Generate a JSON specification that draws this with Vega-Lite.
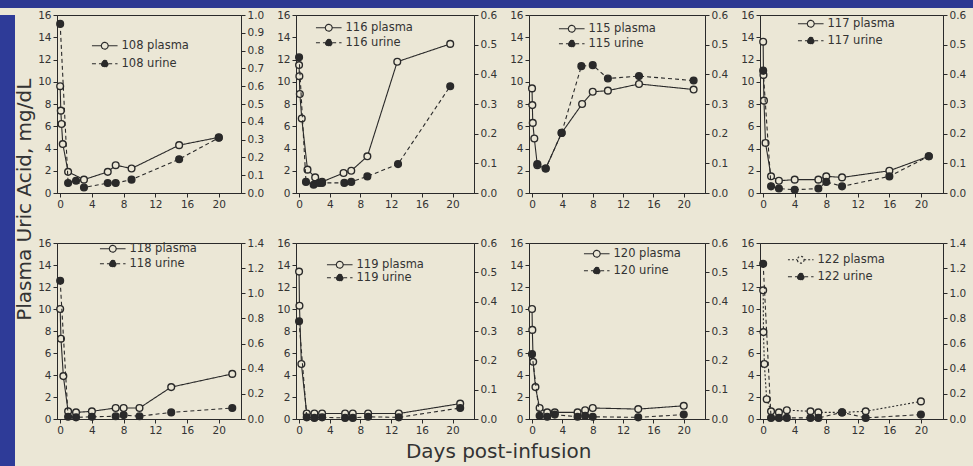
{
"$schema": "https://vega.github.io/schema/vega-lite/v6.json",
"background": "#ebe7d6",
"padding": 0,
"spacing": 1,
"resolve": {"scale": {"fill": "independent", "strokeDash": "independent"}, "legend": {"fill": "independent", "strokeDash": "independent"}},
"datasets": {"uric": [
{"patient":"108","type":"plasma","day":0,"value":9.6},{"patient":"108","type":"plasma","day":0.08,"value":7.4},{"patient":"108","type":"plasma","day":0.17,"value":6.2},{"patient":"108","type":"plasma","day":0.33,"value":4.4},{"patient":"108","type":"plasma","day":1,"value":1.9},{"patient":"108","type":"plasma","day":3,"value":1.2},{"patient":"108","type":"plasma","day":6,"value":1.9},{"patient":"108","type":"plasma","day":7,"value":2.5},{"patient":"108","type":"plasma","day":9,"value":2.2},{"patient":"108","type":"plasma","day":15,"value":4.3},{"patient":"108","type":"plasma","day":20,"value":5.0},
{"patient":"108","type":"urine","day":0,"value":0.95},{"patient":"108","type":"urine","day":1,"value":0.056},{"patient":"108","type":"urine","day":2,"value":0.069},{"patient":"108","type":"urine","day":3,"value":0.031},{"patient":"108","type":"urine","day":6,"value":0.056},{"patient":"108","type":"urine","day":7,"value":0.056},{"patient":"108","type":"urine","day":9,"value":0.075},{"patient":"108","type":"urine","day":15,"value":0.19},{"patient":"108","type":"urine","day":20,"value":0.31},
{"patient":"116","type":"plasma","day":0,"value":11.5},{"patient":"116","type":"plasma","day":0.04,"value":10.5},{"patient":"116","type":"plasma","day":0.1,"value":8.9},{"patient":"116","type":"plasma","day":0.35,"value":6.7},{"patient":"116","type":"plasma","day":1.1,"value":2.1},{"patient":"116","type":"plasma","day":2.1,"value":1.4},{"patient":"116","type":"plasma","day":3,"value":1.0},{"patient":"116","type":"plasma","day":5.8,"value":1.8},{"patient":"116","type":"plasma","day":6.8,"value":2.0},{"patient":"116","type":"plasma","day":8.9,"value":3.3},{"patient":"116","type":"plasma","day":12.8,"value":11.8},{"patient":"116","type":"plasma","day":19.7,"value":13.4},
{"patient":"116","type":"urine","day":0,"value":0.4575},{"patient":"116","type":"urine","day":0.9,"value":0.0375},{"patient":"116","type":"urine","day":1.9,"value":0.028},{"patient":"116","type":"urine","day":2.6,"value":0.034},{"patient":"116","type":"urine","day":3,"value":0.034},{"patient":"116","type":"urine","day":5.9,"value":0.034},{"patient":"116","type":"urine","day":6.8,"value":0.0375},{"patient":"116","type":"urine","day":8.9,"value":0.056},{"patient":"116","type":"urine","day":12.9,"value":0.0975},{"patient":"116","type":"urine","day":19.7,"value":0.36},
{"patient":"115","type":"plasma","day":0,"value":9.4},{"patient":"115","type":"plasma","day":0.04,"value":7.9},{"patient":"115","type":"plasma","day":0.1,"value":6.3},{"patient":"115","type":"plasma","day":0.3,"value":4.9},{"patient":"115","type":"plasma","day":0.7,"value":2.5},{"patient":"115","type":"plasma","day":1.8,"value":2.2},{"patient":"115","type":"plasma","day":3.9,"value":5.4},{"patient":"115","type":"plasma","day":6.6,"value":8.0},{"patient":"115","type":"plasma","day":8,"value":9.1},{"patient":"115","type":"plasma","day":10,"value":9.2},{"patient":"115","type":"plasma","day":14.1,"value":9.8},{"patient":"115","type":"plasma","day":21.3,"value":9.3},
{"patient":"115","type":"urine","day":0.7,"value":0.0975},{"patient":"115","type":"urine","day":1.8,"value":0.0825},{"patient":"115","type":"urine","day":3.9,"value":0.2025},{"patient":"115","type":"urine","day":6.5,"value":0.4275},{"patient":"115","type":"urine","day":8,"value":0.431},{"patient":"115","type":"urine","day":10,"value":0.386},{"patient":"115","type":"urine","day":14.1,"value":0.394},{"patient":"115","type":"urine","day":21.3,"value":0.379},
{"patient":"117","type":"plasma","day":0,"value":13.6},{"patient":"117","type":"plasma","day":0.04,"value":10.6},{"patient":"117","type":"plasma","day":0.1,"value":8.3},{"patient":"117","type":"plasma","day":0.3,"value":4.5},{"patient":"117","type":"plasma","day":1,"value":1.5},{"patient":"117","type":"plasma","day":2,"value":1.1},{"patient":"117","type":"plasma","day":4,"value":1.2},{"patient":"117","type":"plasma","day":7,"value":1.2},{"patient":"117","type":"plasma","day":8,"value":1.5},{"patient":"117","type":"plasma","day":10,"value":1.4},{"patient":"117","type":"plasma","day":16,"value":2.0},{"patient":"117","type":"plasma","day":21,"value":3.3},
{"patient":"117","type":"urine","day":0,"value":0.4125},{"patient":"117","type":"urine","day":1,"value":0.0225},{"patient":"117","type":"urine","day":2,"value":0.015},{"patient":"117","type":"urine","day":4,"value":0.011},{"patient":"117","type":"urine","day":7,"value":0.015},{"patient":"117","type":"urine","day":8,"value":0.0375},{"patient":"117","type":"urine","day":10,"value":0.0225},{"patient":"117","type":"urine","day":16,"value":0.056},{"patient":"117","type":"urine","day":21,"value":0.124},
{"patient":"118","type":"plasma","day":0,"value":10.0},{"patient":"118","type":"plasma","day":0.1,"value":7.3},{"patient":"118","type":"plasma","day":0.4,"value":3.9},{"patient":"118","type":"plasma","day":1,"value":0.7},{"patient":"118","type":"plasma","day":2,"value":0.6},{"patient":"118","type":"plasma","day":4,"value":0.7},{"patient":"118","type":"plasma","day":7,"value":1.0},{"patient":"118","type":"plasma","day":8,"value":1.0},{"patient":"118","type":"plasma","day":10,"value":1.0},{"patient":"118","type":"plasma","day":14,"value":2.9},{"patient":"118","type":"plasma","day":21.7,"value":4.1},
{"patient":"118","type":"urine","day":0,"value":1.10},{"patient":"118","type":"urine","day":1,"value":0.0175},{"patient":"118","type":"urine","day":2,"value":0.013},{"patient":"118","type":"urine","day":4,"value":0.0175},{"patient":"118","type":"urine","day":7,"value":0.022},{"patient":"118","type":"urine","day":8,"value":0.031},{"patient":"118","type":"urine","day":10,"value":0.022},{"patient":"118","type":"urine","day":14,"value":0.0525},{"patient":"118","type":"urine","day":21.7,"value":0.0875},
{"patient":"119","type":"plasma","day":0,"value":13.4},{"patient":"119","type":"plasma","day":0.05,"value":10.3},{"patient":"119","type":"plasma","day":0.3,"value":5.0},{"patient":"119","type":"plasma","day":1,"value":0.5},{"patient":"119","type":"plasma","day":2,"value":0.5},{"patient":"119","type":"plasma","day":3,"value":0.5},{"patient":"119","type":"plasma","day":6,"value":0.5},{"patient":"119","type":"plasma","day":7,"value":0.5},{"patient":"119","type":"plasma","day":9,"value":0.5},{"patient":"119","type":"plasma","day":13,"value":0.5},{"patient":"119","type":"plasma","day":21,"value":1.4},
{"patient":"119","type":"urine","day":0,"value":0.333},{"patient":"119","type":"urine","day":1,"value":0.0056},{"patient":"119","type":"urine","day":2,"value":0.0038},{"patient":"119","type":"urine","day":3,"value":0.0056},{"patient":"119","type":"urine","day":6,"value":0.0038},{"patient":"119","type":"urine","day":7,"value":0.0038},{"patient":"119","type":"urine","day":9,"value":0.0075},{"patient":"119","type":"urine","day":13,"value":0.0056},{"patient":"119","type":"urine","day":21,"value":0.0375},
{"patient":"120","type":"plasma","day":0,"value":10.0},{"patient":"120","type":"plasma","day":0.04,"value":8.1},{"patient":"120","type":"plasma","day":0.15,"value":5.2},{"patient":"120","type":"plasma","day":0.45,"value":2.9},{"patient":"120","type":"plasma","day":1,"value":1.0},{"patient":"120","type":"plasma","day":2,"value":0.6},{"patient":"120","type":"plasma","day":3,"value":0.6},{"patient":"120","type":"plasma","day":6,"value":0.6},{"patient":"120","type":"plasma","day":7,"value":0.8},{"patient":"120","type":"plasma","day":8,"value":1.0},{"patient":"120","type":"plasma","day":14,"value":0.9},{"patient":"120","type":"plasma","day":20,"value":1.2},
{"patient":"120","type":"urine","day":0,"value":0.221},{"patient":"120","type":"urine","day":1,"value":0.011},{"patient":"120","type":"urine","day":2,"value":0.0075},{"patient":"120","type":"urine","day":3,"value":0.015},{"patient":"120","type":"urine","day":6,"value":0.0075},{"patient":"120","type":"urine","day":7,"value":0.011},{"patient":"120","type":"urine","day":8,"value":0.0075},{"patient":"120","type":"urine","day":14,"value":0.0056},{"patient":"120","type":"urine","day":20,"value":0.015},
{"patient":"122","type":"plasma","day":0,"value":11.7},{"patient":"122","type":"plasma","day":0.04,"value":7.9},{"patient":"122","type":"plasma","day":0.15,"value":5.0},{"patient":"122","type":"plasma","day":0.45,"value":1.8},{"patient":"122","type":"plasma","day":1,"value":0.7},{"patient":"122","type":"plasma","day":2,"value":0.6},{"patient":"122","type":"plasma","day":3,"value":0.8},{"patient":"122","type":"plasma","day":6,"value":0.7},{"patient":"122","type":"plasma","day":7,"value":0.6},{"patient":"122","type":"plasma","day":10,"value":0.6},{"patient":"122","type":"plasma","day":13,"value":0.7},{"patient":"122","type":"plasma","day":20,"value":1.6},
{"patient":"122","type":"urine","day":0,"value":1.234},{"patient":"122","type":"urine","day":1,"value":0.0088},{"patient":"122","type":"urine","day":2,"value":0.0088},{"patient":"122","type":"urine","day":3,"value":0.0088},{"patient":"122","type":"urine","day":6,"value":0.0088},{"patient":"122","type":"urine","day":7,"value":0.0088},{"patient":"122","type":"urine","day":10,"value":0.0525},{"patient":"122","type":"urine","day":13,"value":0.0088},{"patient":"122","type":"urine","day":20,"value":0.035}
]},
"vconcat": [
{"width": 973, "height": 8, "view": {"fill": "#2c3892", "stroke": null}, "data": {"values": []}, "mark": "point", "encoding": {}},
{"spacing": 0,
 "resolve": {"scale": {"fill": "independent", "strokeDash": "independent"}, "legend": {"fill": "independent", "strokeDash": "independent"}},
 "hconcat": [
 {"width": 15, "height": 457, "view": {"fill": "#2e3b98", "stroke": null}, "data": {"values": []}, "mark": "point", "encoding": {}},
 {"title": {"text": "Days post-infusion", "orient": "bottom", "offset": 6, "anchor": "middle", "dx": 8},
  "resolve": {"scale": {"fill": "independent", "strokeDash": "independent"}, "legend": {"fill": "independent", "strokeDash": "independent"}},
  "hconcat": [
  {"title": {"text": "Plasma Uric Acid, mg/dL", "orient": "left", "offset": 2, "anchor": "middle", "dx": 23},
   "spacing": 27,
   "resolve": {"scale": {"fill": "independent", "strokeDash": "independent"}, "legend": {"fill": "independent", "strokeDash": "independent"}},
   "vconcat": [
   {"spacing": 11,
    "resolve": {"scale": {"fill": "independent", "strokeDash": "independent"}, "legend": {"fill": "independent", "strokeDash": "independent"}},
    "hconcat": [
    {"width": 184, "height": 178, "data": {"name": "uric"}, "transform": [{"filter": "datum.patient == '108'"}],
     "encoding": {"x": {"field": "day", "type": "quantitative", "scale": {"domain": [-0.4, 22.8], "nice": false, "zero": false}, "axis": {"values": [0,4,8,12,16,20], "title": null, "labelFlush": false}}},
     "layer": [
      {"transform": [{"filter": "datum.type == 'plasma'"}],
       "encoding": {"y": {"field": "value", "type": "quantitative", "scale": {"domain": [0,16], "nice": false}, "axis": {"values": [0,2,4,6,8,10,12,14,16], "title": null}}},
       "layer": [
        {"mark": {"type": "line"}, "encoding": {"strokeDash": {"datum": "108 plasma", "scale": {"domain": ["108 plasma","108 urine"], "range": [[1,0],[4,3]]}, "legend": {"orient": "none", "legendX": 42, "legendY": 25, "rowPadding": 5, "title": null}}}},
        {"mark": {"type": "point", "filled": true, "size": 45, "stroke": "#2a2a2a", "strokeWidth": 1.4, "opacity": 1}, "encoding": {"fill": {"datum": "108 plasma", "scale": {"domain": ["108 plasma","108 urine"], "range": ["#ebe7d6","#2a2a2a"]}, "legend": {"orient": "none", "legendX": 42, "legendY": 25, "rowPadding": 5, "title": null}}}}
       ]},
      {"transform": [{"filter": "datum.type == 'urine'"}],
       "encoding": {"y": {"field": "value", "type": "quantitative", "scale": {"domain": [0,1.0], "nice": false}, "axis": {"orient": "right", "values": [0,0.1,0.2,0.3,0.4,0.5,0.6,0.7,0.8,0.9,1.0], "format": ".1f", "title": null}}},
       "layer": [
        {"mark": {"type": "line"}, "encoding": {"strokeDash": {"datum": "108 urine", "scale": {"domain": ["108 plasma","108 urine"], "range": [[1,0],[4,3]]}, "legend": {"orient": "none", "legendX": 42, "legendY": 25, "rowPadding": 5, "title": null}}}},
        {"mark": {"type": "point", "filled": true, "size": 45, "stroke": "#2a2a2a", "strokeWidth": 1.4, "opacity": 1}, "encoding": {"fill": {"datum": "108 urine", "scale": {"domain": ["108 plasma","108 urine"], "range": ["#ebe7d6","#2a2a2a"]}, "legend": {"orient": "none", "legendX": 42, "legendY": 25, "rowPadding": 5, "title": null}}}}
       ]}
     ],
     "resolve": {"scale": {"y": "independent"}}},
    {"width": 178, "height": 178, "data": {"name": "uric"}, "transform": [{"filter": "datum.patient == '116'"}],
     "encoding": {"x": {"field": "day", "type": "quantitative", "scale": {"domain": [-0.4, 22.8], "nice": false, "zero": false}, "axis": {"values": [0,4,8,12,16,20], "title": null, "labelFlush": false}}},
     "layer": [
      {"transform": [{"filter": "datum.type == 'plasma'"}],
       "encoding": {"y": {"field": "value", "type": "quantitative", "scale": {"domain": [0,16], "nice": false}, "axis": {"values": [0,2,4,6,8,10,12,14,16], "title": null}}},
       "layer": [
        {"mark": {"type": "line"}, "encoding": {"strokeDash": {"datum": "116 plasma", "scale": {"domain": ["116 plasma","116 urine"], "range": [[1,0],[4,3]]}, "legend": {"orient": "none", "legendX": 27, "legendY": 7, "rowPadding": 2, "title": null}}}},
        {"mark": {"type": "point", "filled": true, "size": 45, "stroke": "#2a2a2a", "strokeWidth": 1.4, "opacity": 1}, "encoding": {"fill": {"datum": "116 plasma", "scale": {"domain": ["116 plasma","116 urine"], "range": ["#ebe7d6","#2a2a2a"]}, "legend": {"orient": "none", "legendX": 27, "legendY": 7, "rowPadding": 2, "title": null}}}}
       ]},
      {"transform": [{"filter": "datum.type == 'urine'"}],
       "encoding": {"y": {"field": "value", "type": "quantitative", "scale": {"domain": [0,0.6], "nice": false}, "axis": {"orient": "right", "values": [0,0.1,0.2,0.3,0.4,0.5,0.6], "format": ".1f", "title": null}}},
       "layer": [
        {"mark": {"type": "line"}, "encoding": {"strokeDash": {"datum": "116 urine", "scale": {"domain": ["116 plasma","116 urine"], "range": [[1,0],[4,3]]}, "legend": {"orient": "none", "legendX": 27, "legendY": 7, "rowPadding": 2, "title": null}}}},
        {"mark": {"type": "point", "filled": true, "size": 45, "stroke": "#2a2a2a", "strokeWidth": 1.4, "opacity": 1}, "encoding": {"fill": {"datum": "116 urine", "scale": {"domain": ["116 plasma","116 urine"], "range": ["#ebe7d6","#2a2a2a"]}, "legend": {"orient": "none", "legendX": 27, "legendY": 7, "rowPadding": 2, "title": null}}}}
       ]}
     ],
     "resolve": {"scale": {"y": "independent"}}},
    {"width": 176, "height": 178, "data": {"name": "uric"}, "transform": [{"filter": "datum.patient == '115'"}],
     "encoding": {"x": {"field": "day", "type": "quantitative", "scale": {"domain": [-0.4, 22.8], "nice": false, "zero": false}, "axis": {"values": [0,4,8,12,16,20], "title": null, "labelFlush": false}}},
     "layer": [
      {"transform": [{"filter": "datum.type == 'plasma'"}],
       "encoding": {"y": {"field": "value", "type": "quantitative", "scale": {"domain": [0,16], "nice": false}, "axis": {"values": [0,2,4,6,8,10,12,14,16], "title": null}}},
       "layer": [
        {"mark": {"type": "line"}, "encoding": {"strokeDash": {"datum": "115 plasma", "scale": {"domain": ["115 plasma","115 urine"], "range": [[1,0],[4,3]]}, "legend": {"orient": "none", "legendX": 37, "legendY": 8, "rowPadding": 2, "title": null}}}},
        {"mark": {"type": "point", "filled": true, "size": 45, "stroke": "#2a2a2a", "strokeWidth": 1.4, "opacity": 1}, "encoding": {"fill": {"datum": "115 plasma", "scale": {"domain": ["115 plasma","115 urine"], "range": ["#ebe7d6","#2a2a2a"]}, "legend": {"orient": "none", "legendX": 37, "legendY": 8, "rowPadding": 2, "title": null}}}}
       ]},
      {"transform": [{"filter": "datum.type == 'urine'"}],
       "encoding": {"y": {"field": "value", "type": "quantitative", "scale": {"domain": [0,0.6], "nice": false}, "axis": {"orient": "right", "values": [0,0.1,0.2,0.3,0.4,0.5,0.6], "format": ".1f", "title": null}}},
       "layer": [
        {"mark": {"type": "line"}, "encoding": {"strokeDash": {"datum": "115 urine", "scale": {"domain": ["115 plasma","115 urine"], "range": [[1,0],[4,3]]}, "legend": {"orient": "none", "legendX": 37, "legendY": 8, "rowPadding": 2, "title": null}}}},
        {"mark": {"type": "point", "filled": true, "size": 45, "stroke": "#2a2a2a", "strokeWidth": 1.4, "opacity": 1}, "encoding": {"fill": {"datum": "115 urine", "scale": {"domain": ["115 plasma","115 urine"], "range": ["#ebe7d6","#2a2a2a"]}, "legend": {"orient": "none", "legendX": 37, "legendY": 8, "rowPadding": 2, "title": null}}}}
       ]}
     ],
     "resolve": {"scale": {"y": "independent"}}},
    {"width": 183, "height": 178, "data": {"name": "uric"}, "transform": [{"filter": "datum.patient == '117'"}],
     "encoding": {"x": {"field": "day", "type": "quantitative", "scale": {"domain": [-0.4, 22.8], "nice": false, "zero": false}, "axis": {"values": [0,4,8,12,16,20], "title": null, "labelFlush": false}}},
     "layer": [
      {"transform": [{"filter": "datum.type == 'plasma'"}],
       "encoding": {"y": {"field": "value", "type": "quantitative", "scale": {"domain": [0,16], "nice": false}, "axis": {"values": [0,2,4,6,8,10,12,14,16], "title": null}}},
       "layer": [
        {"mark": {"type": "line"}, "encoding": {"strokeDash": {"datum": "117 plasma", "scale": {"domain": ["117 plasma","117 urine"], "range": [[1,0],[4,3]]}, "legend": {"orient": "none", "legendX": 45, "legendY": 3, "rowPadding": 4, "title": null}}}},
        {"mark": {"type": "point", "filled": true, "size": 45, "stroke": "#2a2a2a", "strokeWidth": 1.4, "opacity": 1}, "encoding": {"fill": {"datum": "117 plasma", "scale": {"domain": ["117 plasma","117 urine"], "range": ["#ebe7d6","#2a2a2a"]}, "legend": {"orient": "none", "legendX": 45, "legendY": 3, "rowPadding": 4, "title": null}}}}
       ]},
      {"transform": [{"filter": "datum.type == 'urine'"}],
       "encoding": {"y": {"field": "value", "type": "quantitative", "scale": {"domain": [0,0.6], "nice": false}, "axis": {"orient": "right", "values": [0,0.1,0.2,0.3,0.4,0.5,0.6], "format": ".1f", "title": null}}},
       "layer": [
        {"mark": {"type": "line"}, "encoding": {"strokeDash": {"datum": "117 urine", "scale": {"domain": ["117 plasma","117 urine"], "range": [[1,0],[4,3]]}, "legend": {"orient": "none", "legendX": 45, "legendY": 3, "rowPadding": 4, "title": null}}}},
        {"mark": {"type": "point", "filled": true, "size": 45, "stroke": "#2a2a2a", "strokeWidth": 1.4, "opacity": 1}, "encoding": {"fill": {"datum": "117 urine", "scale": {"domain": ["117 plasma","117 urine"], "range": ["#ebe7d6","#2a2a2a"]}, "legend": {"orient": "none", "legendX": 45, "legendY": 3, "rowPadding": 4, "title": null}}}}
       ]}
     ],
     "resolve": {"scale": {"y": "independent"}}}
   ]},
   {"spacing": 11,
    "resolve": {"scale": {"fill": "independent", "strokeDash": "independent"}, "legend": {"fill": "independent", "strokeDash": "independent"}},
    "hconcat": [
    {"width": 184, "height": 176, "data": {"name": "uric"}, "transform": [{"filter": "datum.patient == '118'"}],
     "encoding": {"x": {"field": "day", "type": "quantitative", "scale": {"domain": [-0.4, 22.8], "nice": false, "zero": false}, "axis": {"values": [0,4,8,12,16,20], "title": null, "labelFlush": false}}},
     "layer": [
      {"transform": [{"filter": "datum.type == 'plasma'"}],
       "encoding": {"y": {"field": "value", "type": "quantitative", "scale": {"domain": [0,16], "nice": false}, "axis": {"values": [0,2,4,6,8,10,12,14,16], "title": null}}},
       "layer": [
        {"mark": {"type": "line"}, "encoding": {"strokeDash": {"datum": "118 plasma", "scale": {"domain": ["118 plasma","118 urine"], "range": [[1,0],[4,3]]}, "legend": {"orient": "none", "legendX": 50, "legendY": 0, "rowPadding": 2, "title": null}}}},
        {"mark": {"type": "point", "filled": true, "size": 45, "stroke": "#2a2a2a", "strokeWidth": 1.4, "opacity": 1}, "encoding": {"fill": {"datum": "118 plasma", "scale": {"domain": ["118 plasma","118 urine"], "range": ["#ebe7d6","#2a2a2a"]}, "legend": {"orient": "none", "legendX": 50, "legendY": 0, "rowPadding": 2, "title": null}}}}
       ]},
      {"transform": [{"filter": "datum.type == 'urine'"}],
       "encoding": {"y": {"field": "value", "type": "quantitative", "scale": {"domain": [0,1.4], "nice": false}, "axis": {"orient": "right", "values": [0,0.2,0.4,0.6,0.8,1.0,1.2,1.4], "format": ".1f", "title": null}}},
       "layer": [
        {"mark": {"type": "line"}, "encoding": {"strokeDash": {"datum": "118 urine", "scale": {"domain": ["118 plasma","118 urine"], "range": [[1,0],[4,3]]}, "legend": {"orient": "none", "legendX": 50, "legendY": 0, "rowPadding": 2, "title": null}}}},
        {"mark": {"type": "point", "filled": true, "size": 45, "stroke": "#2a2a2a", "strokeWidth": 1.4, "opacity": 1}, "encoding": {"fill": {"datum": "118 urine", "scale": {"domain": ["118 plasma","118 urine"], "range": ["#ebe7d6","#2a2a2a"]}, "legend": {"orient": "none", "legendX": 50, "legendY": 0, "rowPadding": 2, "title": null}}}}
       ]}
     ],
     "resolve": {"scale": {"y": "independent"}}},
    {"width": 178, "height": 176, "data": {"name": "uric"}, "transform": [{"filter": "datum.patient == '119'"}],
     "encoding": {"x": {"field": "day", "type": "quantitative", "scale": {"domain": [-0.4, 22.8], "nice": false, "zero": false}, "axis": {"values": [0,4,8,12,16,20], "title": null, "labelFlush": false}}},
     "layer": [
      {"transform": [{"filter": "datum.type == 'plasma'"}],
       "encoding": {"y": {"field": "value", "type": "quantitative", "scale": {"domain": [0,16], "nice": false}, "axis": {"values": [0,2,4,6,8,10,12,14,16], "title": null}}},
       "layer": [
        {"mark": {"type": "line"}, "encoding": {"strokeDash": {"datum": "119 plasma", "scale": {"domain": ["119 plasma","119 urine"], "range": [[1,0],[4,3]]}, "legend": {"orient": "none", "legendX": 38, "legendY": 16, "rowPadding": 0, "title": null}}}},
        {"mark": {"type": "point", "filled": true, "size": 45, "stroke": "#2a2a2a", "strokeWidth": 1.4, "opacity": 1}, "encoding": {"fill": {"datum": "119 plasma", "scale": {"domain": ["119 plasma","119 urine"], "range": ["#ebe7d6","#2a2a2a"]}, "legend": {"orient": "none", "legendX": 38, "legendY": 16, "rowPadding": 0, "title": null}}}}
       ]},
      {"transform": [{"filter": "datum.type == 'urine'"}],
       "encoding": {"y": {"field": "value", "type": "quantitative", "scale": {"domain": [0,0.6], "nice": false}, "axis": {"orient": "right", "values": [0,0.1,0.2,0.3,0.4,0.5,0.6], "format": ".1f", "title": null}}},
       "layer": [
        {"mark": {"type": "line"}, "encoding": {"strokeDash": {"datum": "119 urine", "scale": {"domain": ["119 plasma","119 urine"], "range": [[1,0],[4,3]]}, "legend": {"orient": "none", "legendX": 38, "legendY": 16, "rowPadding": 0, "title": null}}}},
        {"mark": {"type": "point", "filled": true, "size": 45, "stroke": "#2a2a2a", "strokeWidth": 1.4, "opacity": 1}, "encoding": {"fill": {"datum": "119 urine", "scale": {"domain": ["119 plasma","119 urine"], "range": ["#ebe7d6","#2a2a2a"]}, "legend": {"orient": "none", "legendX": 38, "legendY": 16, "rowPadding": 0, "title": null}}}}
       ]}
     ],
     "resolve": {"scale": {"y": "independent"}}},
    {"width": 176, "height": 176, "data": {"name": "uric"}, "transform": [{"filter": "datum.patient == '120'"}],
     "encoding": {"x": {"field": "day", "type": "quantitative", "scale": {"domain": [-0.4, 22.8], "nice": false, "zero": false}, "axis": {"values": [0,4,8,12,16,20], "title": null, "labelFlush": false}}},
     "layer": [
      {"transform": [{"filter": "datum.type == 'plasma'"}],
       "encoding": {"y": {"field": "value", "type": "quantitative", "scale": {"domain": [0,16], "nice": false}, "axis": {"values": [0,2,4,6,8,10,12,14,16], "title": null}}},
       "layer": [
        {"mark": {"type": "line"}, "encoding": {"strokeDash": {"datum": "120 plasma", "scale": {"domain": ["120 plasma","120 urine"], "range": [[1,0],[4,3]]}, "legend": {"orient": "none", "legendX": 62, "legendY": 5, "rowPadding": 4, "title": null}}}},
        {"mark": {"type": "point", "filled": true, "size": 45, "stroke": "#2a2a2a", "strokeWidth": 1.4, "opacity": 1}, "encoding": {"fill": {"datum": "120 plasma", "scale": {"domain": ["120 plasma","120 urine"], "range": ["#ebe7d6","#2a2a2a"]}, "legend": {"orient": "none", "legendX": 62, "legendY": 5, "rowPadding": 4, "title": null}}}}
       ]},
      {"transform": [{"filter": "datum.type == 'urine'"}],
       "encoding": {"y": {"field": "value", "type": "quantitative", "scale": {"domain": [0,0.6], "nice": false}, "axis": {"orient": "right", "values": [0,0.1,0.2,0.3,0.4,0.5,0.6], "format": ".1f", "title": null}}},
       "layer": [
        {"mark": {"type": "line"}, "encoding": {"strokeDash": {"datum": "120 urine", "scale": {"domain": ["120 plasma","120 urine"], "range": [[1,0],[4,3]]}, "legend": {"orient": "none", "legendX": 62, "legendY": 5, "rowPadding": 4, "title": null}}}},
        {"mark": {"type": "point", "filled": true, "size": 45, "stroke": "#2a2a2a", "strokeWidth": 1.4, "opacity": 1}, "encoding": {"fill": {"datum": "120 urine", "scale": {"domain": ["120 plasma","120 urine"], "range": ["#ebe7d6","#2a2a2a"]}, "legend": {"orient": "none", "legendX": 62, "legendY": 5, "rowPadding": 4, "title": null}}}}
       ]}
     ],
     "resolve": {"scale": {"y": "independent"}}},
    {"width": 183, "height": 176, "data": {"name": "uric"}, "transform": [{"filter": "datum.patient == '122'"}],
     "encoding": {"x": {"field": "day", "type": "quantitative", "scale": {"domain": [-0.4, 22.8], "nice": false, "zero": false}, "axis": {"values": [0,4,8,12,16,20], "title": null, "labelFlush": false}}},
     "layer": [
      {"transform": [{"filter": "datum.type == 'plasma'"}],
       "encoding": {"y": {"field": "value", "type": "quantitative", "scale": {"domain": [0,16], "nice": false}, "axis": {"values": [0,2,4,6,8,10,12,14,16], "title": null}}},
       "layer": [
        {"mark": {"type": "line"}, "encoding": {"strokeDash": {"datum": "122 plasma", "scale": {"domain": ["122 plasma","122 urine"], "range": [[2,2],[4,3]]}, "legend": {"orient": "none", "legendX": 35, "legendY": 11, "rowPadding": 4, "title": null}}}},
        {"mark": {"type": "point", "filled": true, "size": 45, "stroke": "#2a2a2a", "strokeWidth": 1.4, "opacity": 1}, "encoding": {"fill": {"datum": "122 plasma", "scale": {"domain": ["122 plasma","122 urine"], "range": ["#ebe7d6","#2a2a2a"]}, "legend": {"orient": "none", "legendX": 35, "legendY": 11, "rowPadding": 4, "title": null}}}}
       ]},
      {"transform": [{"filter": "datum.type == 'urine'"}],
       "encoding": {"y": {"field": "value", "type": "quantitative", "scale": {"domain": [0,1.4], "nice": false}, "axis": {"orient": "right", "values": [0,0.2,0.4,0.6,0.8,1.0,1.2,1.4], "format": ".1f", "title": null}}},
       "layer": [
        {"mark": {"type": "line"}, "encoding": {"strokeDash": {"datum": "122 urine", "scale": {"domain": ["122 plasma","122 urine"], "range": [[2,2],[4,3]]}, "legend": {"orient": "none", "legendX": 35, "legendY": 11, "rowPadding": 4, "title": null}}}},
        {"mark": {"type": "point", "filled": true, "size": 45, "stroke": "#2a2a2a", "strokeWidth": 1.4, "opacity": 1}, "encoding": {"fill": {"datum": "122 urine", "scale": {"domain": ["122 plasma","122 urine"], "range": ["#ebe7d6","#2a2a2a"]}, "legend": {"orient": "none", "legendX": 35, "legendY": 11, "rowPadding": 4, "title": null}}}}
       ]}
     ],
     "resolve": {"scale": {"y": "independent"}}}
   ]}
   ]}
  ]}
]}
],
"config": {
 "font": "DejaVu Sans",
 "view": {"stroke": "#2a2a2a", "strokeWidth": 1},
 "axis": {"grid": false, "domainColor": "#2a2a2a", "tickColor": "#2a2a2a", "labelColor": "#333333", "labelFont": "DejaVu Sans", "labelFontSize": 10.5, "tickSize": 4, "labelPadding": 2, "domainWidth": 1, "tickWidth": 1, "labelOverlap": false},
 "legend": {"padding": 0, "labelFont": "DejaVu Sans", "labelFontSize": 11.5, "labelColor": "#333333", "symbolSize": 64, "symbolStrokeWidth": 1.2, "symbolStrokeColor": "#2a2a2a", "labelOffset": 11, "symbolType": "M-3.2,0H-0.85M0.85,0H3.2M0.85,0A0.85,0.85,0,1,1,-0.85,0A0.85,0.85,0,1,1,0.85,0Z"},
 "line": {"color": "#2a2a2a", "strokeWidth": 1.1},
 "title": {"font": "DejaVu Sans", "fontSize": 20, "fontWeight": "normal", "color": "#333333"}
}
}
